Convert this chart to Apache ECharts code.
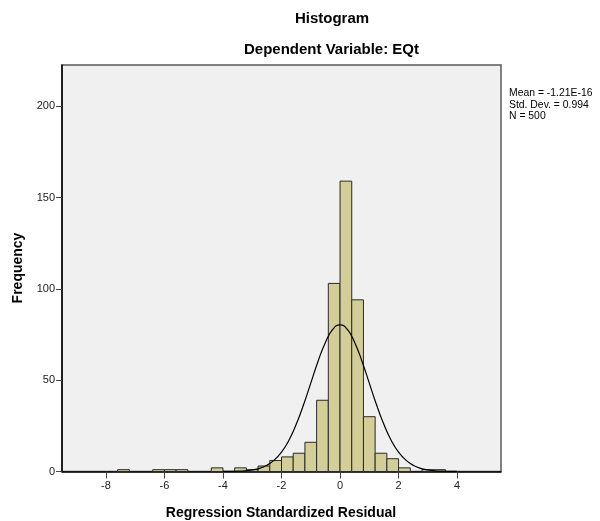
<!DOCTYPE html>
<html>
<head>
<meta charset="utf-8">
<script src="https://cdn.jsdelivr.net/npm/echarts@6/dist/echarts.min.js"></script>
<style>
html,body{margin:0;padding:0;background:#fff;}
#chart{width:600px;height:521px;}
</style>
</head>
<body>
<div id="chart"></div>
<script>
// Histogram bins (start of each bin, width 0.4) and frequencies
const binWidth = 0.4;
const binStarts = [-7.6, -6.4, -6.0, -5.6, -4.4, -3.6, -3.2, -2.8, -2.4, -2.0, -1.6, -1.2, -0.8, -0.4, 0.0, 0.4, 0.8, 1.2, 1.6, 2.0, 2.8, 3.2];
const counts    = [1, 1, 1, 1, 2, 2, 1, 3, 6, 8, 10, 16, 39, 103, 159, 94, 30, 10, 7, 2, 1, 1];

// Normal curve
const curveX = [-4, -3.75, -3.5, -3.25, -3, -2.75, -2.5, -2.25, -2, -1.75, -1.5, -1.25, -1, -0.75, -0.5, -0.25, 0, 0.25, 0.5, 0.75, 1, 1.25, 1.5, 1.75, 2, 2.25, 2.5, 2.75, 3, 3.25, 3.5, 3.75, 4];
const curveY = [0.02, 0.07, 0.16, 0.38, 0.84, 1.75, 3.4, 6.2, 10.6, 17.0, 25.7, 36.4, 48.4, 60.4, 70.7, 77.8, 80.3, 77.8, 70.7, 60.4, 48.4, 36.4, 25.7, 17.0, 10.6, 6.2, 3.4, 1.75, 0.84, 0.38, 0.16, 0.07, 0.02];

const xTicks = [-8, -6, -4, -2, 0, 2, 4];
const yTicks = [0, 50, 100, 150, 200];

const titleText = 'Histogram';
const subtitleText = 'Dependent Variable: EQt';
const xName = 'Regression Standardized Residual';
const yName = 'Frequency';
const statLines = ['Mean = -1.21E-16', 'Std. Dev. = 0.994', 'N = 500'];

const FONT = '"Liberation Sans", Arial, Helvetica, sans-serif';

const chart = echarts.init(document.getElementById('chart'), null, {renderer: 'canvas'});

const option = {
  backgroundColor: '#ffffff',
  animation: false,
  textStyle: {fontFamily: FONT},
  grid: {
    left: 62, right: 99, top: 65, bottom: 49.5,
    show: true, backgroundColor: '#F0F0F0', borderColor: '#5a5a5a', borderWidth: 1.5
  },
  xAxis: {
    type: 'value', min: -9.5, max: 5.5,
    axisLine: {show: true, onZero: false, lineStyle: {color: '#000', width: 1.5}},
    axisTick: {show: true, length: 7, customValues: xTicks, lineStyle: {color: '#444', width: 1}},
    axisLabel: {customValues: xTicks, fontSize: 11, color: '#222', margin: 9, fontFamily: FONT},
    splitLine: {show: false}
  },
  yAxis: {
    type: 'value', min: 0, max: 222.6,
    axisLine: {show: true, onZero: false, lineStyle: {color: '#000', width: 1.5}},
    axisTick: {show: true, length: 6, customValues: yTicks, lineStyle: {color: '#444', width: 1}},
    axisLabel: {customValues: yTicks, fontSize: 11, color: '#222', margin: 7, fontFamily: FONT},
    splitLine: {show: false}
  },
  graphic: [
    {type: 'text', x: 332, y: 19, style: {text: titleText, font: 'bold 15px ' + FONT, fill: '#000', textAlign: 'center', textVerticalAlign: 'middle'}},
    {type: 'text', x: 331.5, y: 50, style: {text: subtitleText, font: 'bold 15px ' + FONT, fill: '#000', textAlign: 'center', textVerticalAlign: 'middle'}},
    {type: 'text', x: 281, y: 513, style: {text: xName, font: 'bold 14px ' + FONT, fill: '#000', textAlign: 'center', textVerticalAlign: 'middle'}},
    {type: 'text', x: 18, y: 268, rotation: Math.PI / 2, style: {text: yName, font: 'bold 14px ' + FONT, fill: '#000', textAlign: 'center', textVerticalAlign: 'middle'}},
    {type: 'text', x: 509, y: 93.5, style: {text: statLines[0], font: '10.4px ' + FONT, fill: '#000', textAlign: 'left', textVerticalAlign: 'middle'}},
    {type: 'text', x: 509, y: 105, style: {text: statLines[1], font: '10.4px ' + FONT, fill: '#000', textAlign: 'left', textVerticalAlign: 'middle'}},
    {type: 'text', x: 509, y: 116.5, style: {text: statLines[2], font: '10.4px ' + FONT, fill: '#000', textAlign: 'left', textVerticalAlign: 'middle'}}
  ],
  series: [
    {
      type: 'custom',
      z: 2,
      encode: {x: [0, 1], y: 2},
      data: binStarts.map((s, i) => [s, s + binWidth, counts[i]]),
      renderItem: function (params, api) {
        const p0 = api.coord([api.value(0), api.value(2)]);
        const p1 = api.coord([api.value(1), 0]);
        return {
          type: 'rect',
          shape: {x: p0[0], y: p0[1], width: p1[0] - p0[0], height: p1[1] - p0[1]},
          style: {fill: '#D3CE97', stroke: '#2a2a2a', lineWidth: 1}
        };
      }
    },
    {
      type: 'line',
      z: 3,
      smooth: true,
      showSymbol: false,
      silent: true,
      data: curveX.map((x, i) => [x, curveY[i]]),
      lineStyle: {color: '#000', width: 1.2}
    }
  ]
};
chart.setOption(option);
</script>
</body>
</html>
